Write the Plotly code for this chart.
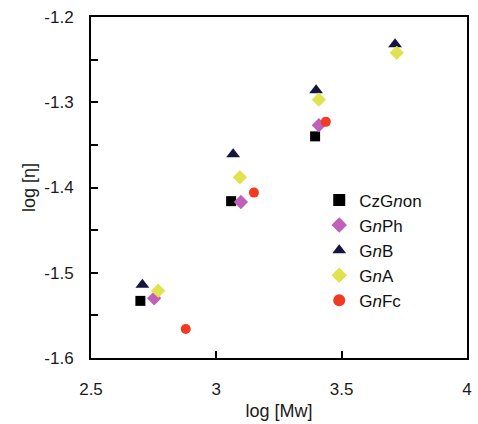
import plotly.graph_objects as go

czgnon_x = [2.697, 3.059, 3.394]
czgnon_y = [-1.533, -1.416, -1.340]
gnph_x = [2.752, 3.098, 3.409]
gnph_y = [-1.530, -1.417, -1.327]
gnb_x = [2.705, 3.067, 3.398, 3.713]
gnb_y = [-1.514, -1.361, -1.286, -1.232]
gna_x = [2.768, 3.094, 3.409, 3.720]
gna_y = [-1.521, -1.388, -1.297, -1.242]
gnfc_x = [2.878, 3.150, 3.437]
gnfc_y = [-1.566, -1.406, -1.323]

x_ticks = [2.5, 3, 3.5, 4]
x_ticklabels = ["2.5", "3", "3.5", "4"]
y_ticks = [-1.6, -1.5, -1.4, -1.3, -1.2]
y_ticklabels = ["-1.6", "-1.5", "-1.4", "-1.3", "-1.2"]

series = [
    ("CzG<i>n</i>on", czgnon_x, czgnon_y, "square", "#000000", 10),
    ("G<i>n</i>Ph", gnph_x, gnph_y, "diamond", "#c060b8", 11),
    ("G<i>n</i>B", gnb_x, gnb_y, "triangle-up", "#14143c", 12),
    ("G<i>n</i>A", gna_x, gna_y, "diamond", "#e2e24e", 11),
    ("G<i>n</i>Fc", gnfc_x, gnfc_y, "circle", "#f03a22", 10),
]

fig = go.Figure()
for name, xs, ys, sym, col, sz in series:
    fig.add_trace(go.Scatter(
        x=xs, y=ys, mode="markers", name=name,
        marker=dict(symbol=sym, color=col, size=sz, line=dict(width=0)),
    ))

font = "Liberation Sans, Arial, sans-serif"
fig.update_layout(
    width=478, height=424,
    margin=dict(l=91, r=6, t=17, b=66),
    paper_bgcolor="white", plot_bgcolor="white",
    font=dict(family=font, size=16, color="#1a1a1a"),
    showlegend=True,
    legend=dict(
        x=0.607, y=0.515, xanchor="left", yanchor="top",
        bgcolor="rgba(0,0,0,0)", font=dict(size=17, color="#111111"),
        itemwidth=30, tracegroupgap=0, itemsizing="constant",
    ),
    xaxis=dict(
        range=[2.5, 4], tickvals=x_ticks, ticktext=x_ticklabels,
        ticks="inside", ticklen=7, tickwidth=2, tickcolor="black",
        showline=True, linewidth=2, linecolor="black", mirror=True,
        showgrid=False, zeroline=False,
        tickfont=dict(size=17, color="#1a1a1a"), ticklabelstandoff=15,
        title=dict(text="log [Mw]", font=dict(size=18, color="#1a1a1a"), standoff=6),
    ),
    yaxis=dict(
        range=[-1.6, -1.2], tickvals=y_ticks, ticktext=y_ticklabels,
        ticks="inside", ticklen=7, tickwidth=2, tickcolor="black",
        minor=dict(dtick=0.05, tick0=-1.6, ticks="inside", ticklen=7, tickwidth=2, tickcolor="black", showgrid=False),
        showline=True, linewidth=2, linecolor="black", mirror=True,
        showgrid=False, zeroline=False,
        tickfont=dict(size=17, color="#1a1a1a"), ticklabelstandoff=12,
        title=dict(text="log [η]", font=dict(size=18, color="#1a1a1a"), standoff=4),
    ),
)

fig.write_html("out.html")
